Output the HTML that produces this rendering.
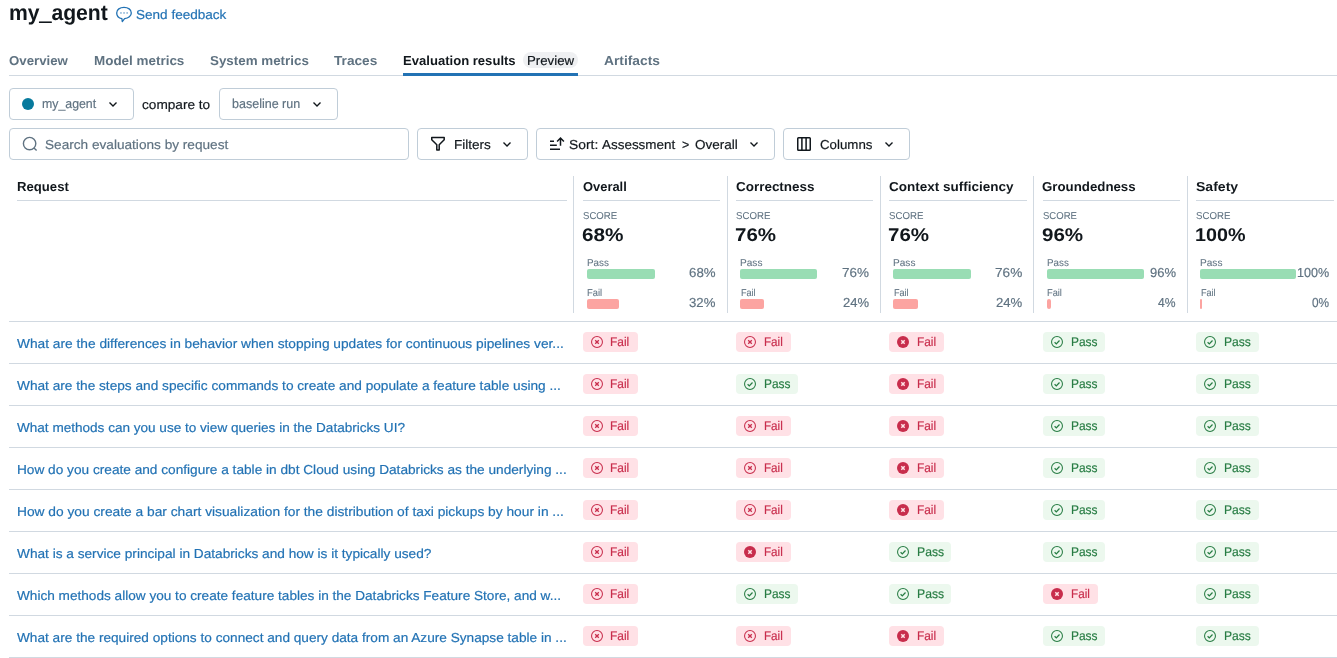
<!DOCTYPE html>
<html lang="en"><head><meta charset="utf-8"><title>my_agent - Evaluation results</title>
<style>
html,body{margin:0;padding:0;background:#fff;}
body{width:1337px;height:658px;position:relative;overflow:hidden;font-family:"Liberation Sans", Arial, sans-serif;color:#11171c;}
.t{position:absolute;white-space:pre;line-height:1;margin:0;padding:0;transform-origin:0 0;text-rendering:geometricPrecision;-webkit-text-stroke:0.18px currentColor;}
.a{position:absolute;}
.btn{position:absolute;box-sizing:border-box;border:1px solid #c0cdd8;border-radius:4px;background:#fff;height:32px;}
.hl{position:absolute;height:1px;background:#d1d9e1;}
.vl{position:absolute;width:1px;background:#d1d9e1;}
.bp{position:absolute;height:20px;border-radius:4px;}
.bar{position:absolute;height:10px;border-radius:2px;}
svg{position:absolute;overflow:visible;}
</style></head><body>
<svg style="left:116px;top:6px" width="16" height="17" viewBox="0 0 16 17" fill="none"><path d="M5.9 12.6 C3 12 0.7 9.8 0.7 6.9 C0.7 3.6 3.9 1.3 8 1.3 C12.1 1.3 15.3 3.6 15.3 6.9 C15.3 10 12.4 12.4 8.6 12.6 L6.3 15.6 Z" stroke="#2272b4" stroke-width="1.3" stroke-linejoin="round"/><rect x="4.2" y="6.2" width="1.5" height="1.5" fill="#7aaad2"/><rect x="7.3" y="6.2" width="1.5" height="1.5" fill="#7aaad2"/><rect x="10.4" y="6.2" width="1.5" height="1.5" fill="#7aaad2"/></svg>
<div class="hl" style="left:9px;top:75px;width:1328px;"></div>
<div class="a" style="left:403px;top:73px;width:175px;height:3px;background:#2272b4;"></div>
<div class="a" style="left:523px;top:52px;width:55px;height:16px;border-radius:8px;background:#eff0f2;"></div>
<div class="btn" style="left:9px;top:88px;width:125px;"></div>
<div class="a" style="left:22px;top:98px;width:12px;height:12px;border-radius:50%;background:#077a9d;"></div>
<svg style="left:109px;top:102px" width="8" height="5" viewBox="0 0 8 5" fill="none"><path d="M0.5 0.6 L4 4 L7.5 0.6" stroke="#11171c" stroke-width="1.4"/></svg>
<div class="btn" style="left:219px;top:88px;width:119px;"></div>
<svg style="left:312.5px;top:102px" width="8" height="5" viewBox="0 0 8 5" fill="none"><path d="M0.5 0.6 L4 4 L7.5 0.6" stroke="#11171c" stroke-width="1.4"/></svg>
<div class="btn" style="left:9px;top:128px;width:400px;"></div>
<svg style="left:22px;top:136px" width="16" height="16" viewBox="0 0 16 16" fill="none"><circle cx="7.6" cy="7.6" r="6.2" stroke="#5f7281" stroke-width="1.4"/><path d="M12 12 L14.6 14.6" stroke="#5f7281" stroke-width="1.4"/></svg>
<div class="btn" style="left:417px;top:128px;width:111px;"></div>
<svg style="left:430px;top:136px" width="16" height="16" viewBox="0 0 16 16" fill="none"><path d="M1.75 1.55 H14.2 V3.8 L9.2 8.7 V14.1 H6.8 V8.7 L1.75 3.8 Z" stroke="#11171c" stroke-width="1.5" stroke-linejoin="round"/></svg>
<svg style="left:503px;top:142px" width="8" height="5" viewBox="0 0 8 5" fill="none"><path d="M0.5 0.6 L4 4 L7.5 0.6" stroke="#11171c" stroke-width="1.4"/></svg>
<div class="btn" style="left:536px;top:128px;width:239px;"></div>
<svg style="left:549px;top:136px" width="16" height="16" viewBox="0 0 16 16" fill="none" stroke="#11171c" stroke-width="1.5"><path d="M1 5.15 H5 M1 9.2 H7.8 M1 13.2 H11 M11.5 9.7 V2.2 M8.1 5.5 L11.5 2.05 L14.9 5.5"/></svg>
<svg style="left:750px;top:142px" width="8" height="5" viewBox="0 0 8 5" fill="none"><path d="M0.5 0.6 L4 4 L7.5 0.6" stroke="#11171c" stroke-width="1.4"/></svg>
<div class="btn" style="left:783px;top:128px;width:127px;"></div>
<svg style="left:797px;top:137px" width="14" height="14" viewBox="0 0 14 14" fill="none" stroke="#11171c" stroke-width="1.5"><rect x="0.75" y="0.75" width="12.5" height="12.5" rx="0.8"/><path d="M4.9 0.75 V13.25 M9.1 0.75 V13.25"/></svg>
<svg style="left:885px;top:142px" width="8" height="5" viewBox="0 0 8 5" fill="none"><path d="M0.5 0.6 L4 4 L7.5 0.6" stroke="#11171c" stroke-width="1.4"/></svg>
<div class="hl" style="left:17px;top:200px;width:550px;"></div>
<div class="vl" style="left:573px;top:176px;height:137px;"></div>
<div class="hl" style="left:583px;top:200px;width:137px;"></div>
<div class="bar" style="left:587px;top:269px;width:68px;background:#99ddb4;"></div>
<div class="bar" style="left:587px;top:299px;width:32px;background:#fca4a1;"></div>
<div class="vl" style="left:727px;top:176px;height:137px;"></div>
<div class="hl" style="left:736px;top:200px;width:137px;"></div>
<div class="bar" style="left:740px;top:269px;width:77px;background:#99ddb4;"></div>
<div class="bar" style="left:740px;top:299px;width:24px;background:#fca4a1;"></div>
<div class="vl" style="left:880px;top:176px;height:137px;"></div>
<div class="hl" style="left:889px;top:200px;width:138px;"></div>
<div class="bar" style="left:893px;top:269px;width:78px;background:#99ddb4;"></div>
<div class="bar" style="left:893px;top:299px;width:25px;background:#fca4a1;"></div>
<div class="vl" style="left:1033px;top:176px;height:137px;"></div>
<div class="hl" style="left:1043px;top:200px;width:137px;"></div>
<div class="bar" style="left:1047px;top:269px;width:97px;background:#99ddb4;"></div>
<div class="bar" style="left:1047px;top:299px;width:4px;background:#fca4a1;"></div>
<div class="vl" style="left:1187px;top:176px;height:137px;"></div>
<div class="hl" style="left:1196px;top:200px;width:138px;"></div>
<div class="bar" style="left:1200px;top:269px;width:96px;background:#99ddb4;"></div>
<div class="bar" style="left:1200px;top:299px;width:1.7px;background:#fca4a1;border-radius:1px;"></div>
<div class="hl" style="left:9px;top:321px;width:1328px;"></div>
<div class="hl" style="left:9px;top:363px;width:1328px;"></div>
<div class="hl" style="left:9px;top:405px;width:1328px;"></div>
<div class="hl" style="left:9px;top:447px;width:1328px;"></div>
<div class="hl" style="left:9px;top:489px;width:1328px;"></div>
<div class="hl" style="left:9px;top:531px;width:1328px;"></div>
<div class="hl" style="left:9px;top:573px;width:1328px;"></div>
<div class="hl" style="left:9px;top:615px;width:1328px;"></div>
<div class="hl" style="left:9px;top:657px;width:1328px;"></div>
<div class="bp" style="left:583px;top:332px;width:55px;background:#ffe1e6;"></div>
<svg style="left:589.9px;top:335px" width="14" height="14" viewBox="0 0 14 14" fill="none" stroke="#c82d4c"><circle cx="7" cy="7" r="5.45" stroke-width="1.05"/><path d="M5.2 5.2 L8.8 8.8 M8.8 5.2 L5.2 8.8" stroke-width="1.3"/></svg>
<div class="bp" style="left:736px;top:332px;width:55px;background:#ffe1e6;"></div>
<svg style="left:742.9px;top:335px" width="14" height="14" viewBox="0 0 14 14" fill="none" stroke="#c82d4c"><circle cx="7" cy="7" r="5.45" stroke-width="1.05"/><path d="M5.2 5.2 L8.8 8.8 M8.8 5.2 L5.2 8.8" stroke-width="1.3"/></svg>
<div class="bp" style="left:889px;top:332px;width:55px;background:#ffe1e6;"></div>
<svg style="left:895.9px;top:335px" width="14" height="14" viewBox="0 0 14 14" fill="none"><circle cx="7" cy="7" r="6" fill="#c82d4c"/><path d="M5.3 5.3 L8.7 8.7 M8.7 5.3 L5.3 8.7" stroke="#ffe3e7" stroke-width="1.5"/></svg>
<div class="bp" style="left:1043px;top:332px;width:62px;background:#ecf8ee;"></div>
<svg style="left:1049.9px;top:335px" width="14" height="14" viewBox="0 0 14 14" fill="none" stroke="#277c43"><circle cx="7" cy="7" r="5.45" stroke-width="1.05"/><path d="M4.6 7.2 L6.3 8.9 L9.5 5.5" stroke-width="1.25"/></svg>
<div class="bp" style="left:1196px;top:332px;width:62.5px;background:#ecf8ee;"></div>
<svg style="left:1202.7px;top:335px" width="14" height="14" viewBox="0 0 14 14" fill="none" stroke="#277c43"><circle cx="7" cy="7" r="5.45" stroke-width="1.05"/><path d="M4.6 7.2 L6.3 8.9 L9.5 5.5" stroke-width="1.25"/></svg>
<div class="bp" style="left:583px;top:374px;width:55px;background:#ffe1e6;"></div>
<svg style="left:589.9px;top:377px" width="14" height="14" viewBox="0 0 14 14" fill="none" stroke="#c82d4c"><circle cx="7" cy="7" r="5.45" stroke-width="1.05"/><path d="M5.2 5.2 L8.8 8.8 M8.8 5.2 L5.2 8.8" stroke-width="1.3"/></svg>
<div class="bp" style="left:736px;top:374px;width:62px;background:#ecf8ee;"></div>
<svg style="left:742.9px;top:377px" width="14" height="14" viewBox="0 0 14 14" fill="none" stroke="#277c43"><circle cx="7" cy="7" r="5.45" stroke-width="1.05"/><path d="M4.6 7.2 L6.3 8.9 L9.5 5.5" stroke-width="1.25"/></svg>
<div class="bp" style="left:889px;top:374px;width:55px;background:#ffe1e6;"></div>
<svg style="left:895.9px;top:377px" width="14" height="14" viewBox="0 0 14 14" fill="none"><circle cx="7" cy="7" r="6" fill="#c82d4c"/><path d="M5.3 5.3 L8.7 8.7 M8.7 5.3 L5.3 8.7" stroke="#ffe3e7" stroke-width="1.5"/></svg>
<div class="bp" style="left:1043px;top:374px;width:62px;background:#ecf8ee;"></div>
<svg style="left:1049.9px;top:377px" width="14" height="14" viewBox="0 0 14 14" fill="none" stroke="#277c43"><circle cx="7" cy="7" r="5.45" stroke-width="1.05"/><path d="M4.6 7.2 L6.3 8.9 L9.5 5.5" stroke-width="1.25"/></svg>
<div class="bp" style="left:1196px;top:374px;width:62.5px;background:#ecf8ee;"></div>
<svg style="left:1202.7px;top:377px" width="14" height="14" viewBox="0 0 14 14" fill="none" stroke="#277c43"><circle cx="7" cy="7" r="5.45" stroke-width="1.05"/><path d="M4.6 7.2 L6.3 8.9 L9.5 5.5" stroke-width="1.25"/></svg>
<div class="bp" style="left:583px;top:416px;width:55px;background:#ffe1e6;"></div>
<svg style="left:589.9px;top:419px" width="14" height="14" viewBox="0 0 14 14" fill="none" stroke="#c82d4c"><circle cx="7" cy="7" r="5.45" stroke-width="1.05"/><path d="M5.2 5.2 L8.8 8.8 M8.8 5.2 L5.2 8.8" stroke-width="1.3"/></svg>
<div class="bp" style="left:736px;top:416px;width:55px;background:#ffe1e6;"></div>
<svg style="left:742.9px;top:419px" width="14" height="14" viewBox="0 0 14 14" fill="none" stroke="#c82d4c"><circle cx="7" cy="7" r="5.45" stroke-width="1.05"/><path d="M5.2 5.2 L8.8 8.8 M8.8 5.2 L5.2 8.8" stroke-width="1.3"/></svg>
<div class="bp" style="left:889px;top:416px;width:55px;background:#ffe1e6;"></div>
<svg style="left:895.9px;top:419px" width="14" height="14" viewBox="0 0 14 14" fill="none"><circle cx="7" cy="7" r="6" fill="#c82d4c"/><path d="M5.3 5.3 L8.7 8.7 M8.7 5.3 L5.3 8.7" stroke="#ffe3e7" stroke-width="1.5"/></svg>
<div class="bp" style="left:1043px;top:416px;width:62px;background:#ecf8ee;"></div>
<svg style="left:1049.9px;top:419px" width="14" height="14" viewBox="0 0 14 14" fill="none" stroke="#277c43"><circle cx="7" cy="7" r="5.45" stroke-width="1.05"/><path d="M4.6 7.2 L6.3 8.9 L9.5 5.5" stroke-width="1.25"/></svg>
<div class="bp" style="left:1196px;top:416px;width:62.5px;background:#ecf8ee;"></div>
<svg style="left:1202.7px;top:419px" width="14" height="14" viewBox="0 0 14 14" fill="none" stroke="#277c43"><circle cx="7" cy="7" r="5.45" stroke-width="1.05"/><path d="M4.6 7.2 L6.3 8.9 L9.5 5.5" stroke-width="1.25"/></svg>
<div class="bp" style="left:583px;top:458px;width:55px;background:#ffe1e6;"></div>
<svg style="left:589.9px;top:461px" width="14" height="14" viewBox="0 0 14 14" fill="none" stroke="#c82d4c"><circle cx="7" cy="7" r="5.45" stroke-width="1.05"/><path d="M5.2 5.2 L8.8 8.8 M8.8 5.2 L5.2 8.8" stroke-width="1.3"/></svg>
<div class="bp" style="left:736px;top:458px;width:55px;background:#ffe1e6;"></div>
<svg style="left:742.9px;top:461px" width="14" height="14" viewBox="0 0 14 14" fill="none" stroke="#c82d4c"><circle cx="7" cy="7" r="5.45" stroke-width="1.05"/><path d="M5.2 5.2 L8.8 8.8 M8.8 5.2 L5.2 8.8" stroke-width="1.3"/></svg>
<div class="bp" style="left:889px;top:458px;width:55px;background:#ffe1e6;"></div>
<svg style="left:895.9px;top:461px" width="14" height="14" viewBox="0 0 14 14" fill="none"><circle cx="7" cy="7" r="6" fill="#c82d4c"/><path d="M5.3 5.3 L8.7 8.7 M8.7 5.3 L5.3 8.7" stroke="#ffe3e7" stroke-width="1.5"/></svg>
<div class="bp" style="left:1043px;top:458px;width:62px;background:#ecf8ee;"></div>
<svg style="left:1049.9px;top:461px" width="14" height="14" viewBox="0 0 14 14" fill="none" stroke="#277c43"><circle cx="7" cy="7" r="5.45" stroke-width="1.05"/><path d="M4.6 7.2 L6.3 8.9 L9.5 5.5" stroke-width="1.25"/></svg>
<div class="bp" style="left:1196px;top:458px;width:62.5px;background:#ecf8ee;"></div>
<svg style="left:1202.7px;top:461px" width="14" height="14" viewBox="0 0 14 14" fill="none" stroke="#277c43"><circle cx="7" cy="7" r="5.45" stroke-width="1.05"/><path d="M4.6 7.2 L6.3 8.9 L9.5 5.5" stroke-width="1.25"/></svg>
<div class="bp" style="left:583px;top:500px;width:55px;background:#ffe1e6;"></div>
<svg style="left:589.9px;top:503px" width="14" height="14" viewBox="0 0 14 14" fill="none" stroke="#c82d4c"><circle cx="7" cy="7" r="5.45" stroke-width="1.05"/><path d="M5.2 5.2 L8.8 8.8 M8.8 5.2 L5.2 8.8" stroke-width="1.3"/></svg>
<div class="bp" style="left:736px;top:500px;width:55px;background:#ffe1e6;"></div>
<svg style="left:742.9px;top:503px" width="14" height="14" viewBox="0 0 14 14" fill="none" stroke="#c82d4c"><circle cx="7" cy="7" r="5.45" stroke-width="1.05"/><path d="M5.2 5.2 L8.8 8.8 M8.8 5.2 L5.2 8.8" stroke-width="1.3"/></svg>
<div class="bp" style="left:889px;top:500px;width:55px;background:#ffe1e6;"></div>
<svg style="left:895.9px;top:503px" width="14" height="14" viewBox="0 0 14 14" fill="none"><circle cx="7" cy="7" r="6" fill="#c82d4c"/><path d="M5.3 5.3 L8.7 8.7 M8.7 5.3 L5.3 8.7" stroke="#ffe3e7" stroke-width="1.5"/></svg>
<div class="bp" style="left:1043px;top:500px;width:62px;background:#ecf8ee;"></div>
<svg style="left:1049.9px;top:503px" width="14" height="14" viewBox="0 0 14 14" fill="none" stroke="#277c43"><circle cx="7" cy="7" r="5.45" stroke-width="1.05"/><path d="M4.6 7.2 L6.3 8.9 L9.5 5.5" stroke-width="1.25"/></svg>
<div class="bp" style="left:1196px;top:500px;width:62.5px;background:#ecf8ee;"></div>
<svg style="left:1202.7px;top:503px" width="14" height="14" viewBox="0 0 14 14" fill="none" stroke="#277c43"><circle cx="7" cy="7" r="5.45" stroke-width="1.05"/><path d="M4.6 7.2 L6.3 8.9 L9.5 5.5" stroke-width="1.25"/></svg>
<div class="bp" style="left:583px;top:542px;width:55px;background:#ffe1e6;"></div>
<svg style="left:589.9px;top:545px" width="14" height="14" viewBox="0 0 14 14" fill="none" stroke="#c82d4c"><circle cx="7" cy="7" r="5.45" stroke-width="1.05"/><path d="M5.2 5.2 L8.8 8.8 M8.8 5.2 L5.2 8.8" stroke-width="1.3"/></svg>
<div class="bp" style="left:736px;top:542px;width:55px;background:#ffe1e6;"></div>
<svg style="left:742.9px;top:545px" width="14" height="14" viewBox="0 0 14 14" fill="none"><circle cx="7" cy="7" r="6" fill="#c82d4c"/><path d="M5.3 5.3 L8.7 8.7 M8.7 5.3 L5.3 8.7" stroke="#ffe3e7" stroke-width="1.5"/></svg>
<div class="bp" style="left:889px;top:542px;width:62px;background:#ecf8ee;"></div>
<svg style="left:895.9px;top:545px" width="14" height="14" viewBox="0 0 14 14" fill="none" stroke="#277c43"><circle cx="7" cy="7" r="5.45" stroke-width="1.05"/><path d="M4.6 7.2 L6.3 8.9 L9.5 5.5" stroke-width="1.25"/></svg>
<div class="bp" style="left:1043px;top:542px;width:62px;background:#ecf8ee;"></div>
<svg style="left:1049.9px;top:545px" width="14" height="14" viewBox="0 0 14 14" fill="none" stroke="#277c43"><circle cx="7" cy="7" r="5.45" stroke-width="1.05"/><path d="M4.6 7.2 L6.3 8.9 L9.5 5.5" stroke-width="1.25"/></svg>
<div class="bp" style="left:1196px;top:542px;width:62.5px;background:#ecf8ee;"></div>
<svg style="left:1202.7px;top:545px" width="14" height="14" viewBox="0 0 14 14" fill="none" stroke="#277c43"><circle cx="7" cy="7" r="5.45" stroke-width="1.05"/><path d="M4.6 7.2 L6.3 8.9 L9.5 5.5" stroke-width="1.25"/></svg>
<div class="bp" style="left:583px;top:584px;width:55px;background:#ffe1e6;"></div>
<svg style="left:589.9px;top:587px" width="14" height="14" viewBox="0 0 14 14" fill="none" stroke="#c82d4c"><circle cx="7" cy="7" r="5.45" stroke-width="1.05"/><path d="M5.2 5.2 L8.8 8.8 M8.8 5.2 L5.2 8.8" stroke-width="1.3"/></svg>
<div class="bp" style="left:736px;top:584px;width:62px;background:#ecf8ee;"></div>
<svg style="left:742.9px;top:587px" width="14" height="14" viewBox="0 0 14 14" fill="none" stroke="#277c43"><circle cx="7" cy="7" r="5.45" stroke-width="1.05"/><path d="M4.6 7.2 L6.3 8.9 L9.5 5.5" stroke-width="1.25"/></svg>
<div class="bp" style="left:889px;top:584px;width:62px;background:#ecf8ee;"></div>
<svg style="left:895.9px;top:587px" width="14" height="14" viewBox="0 0 14 14" fill="none" stroke="#277c43"><circle cx="7" cy="7" r="5.45" stroke-width="1.05"/><path d="M4.6 7.2 L6.3 8.9 L9.5 5.5" stroke-width="1.25"/></svg>
<div class="bp" style="left:1043px;top:584px;width:55px;background:#ffe1e6;"></div>
<svg style="left:1049.9px;top:587px" width="14" height="14" viewBox="0 0 14 14" fill="none"><circle cx="7" cy="7" r="6" fill="#c82d4c"/><path d="M5.3 5.3 L8.7 8.7 M8.7 5.3 L5.3 8.7" stroke="#ffe3e7" stroke-width="1.5"/></svg>
<div class="bp" style="left:1196px;top:584px;width:62.5px;background:#ecf8ee;"></div>
<svg style="left:1202.7px;top:587px" width="14" height="14" viewBox="0 0 14 14" fill="none" stroke="#277c43"><circle cx="7" cy="7" r="5.45" stroke-width="1.05"/><path d="M4.6 7.2 L6.3 8.9 L9.5 5.5" stroke-width="1.25"/></svg>
<div class="bp" style="left:583px;top:626px;width:55px;background:#ffe1e6;"></div>
<svg style="left:589.9px;top:629px" width="14" height="14" viewBox="0 0 14 14" fill="none" stroke="#c82d4c"><circle cx="7" cy="7" r="5.45" stroke-width="1.05"/><path d="M5.2 5.2 L8.8 8.8 M8.8 5.2 L5.2 8.8" stroke-width="1.3"/></svg>
<div class="bp" style="left:736px;top:626px;width:55px;background:#ffe1e6;"></div>
<svg style="left:742.9px;top:629px" width="14" height="14" viewBox="0 0 14 14" fill="none" stroke="#c82d4c"><circle cx="7" cy="7" r="5.45" stroke-width="1.05"/><path d="M5.2 5.2 L8.8 8.8 M8.8 5.2 L5.2 8.8" stroke-width="1.3"/></svg>
<div class="bp" style="left:889px;top:626px;width:55px;background:#ffe1e6;"></div>
<svg style="left:895.9px;top:629px" width="14" height="14" viewBox="0 0 14 14" fill="none"><circle cx="7" cy="7" r="6" fill="#c82d4c"/><path d="M5.3 5.3 L8.7 8.7 M8.7 5.3 L5.3 8.7" stroke="#ffe3e7" stroke-width="1.5"/></svg>
<div class="bp" style="left:1043px;top:626px;width:62px;background:#ecf8ee;"></div>
<svg style="left:1049.9px;top:629px" width="14" height="14" viewBox="0 0 14 14" fill="none" stroke="#277c43"><circle cx="7" cy="7" r="5.45" stroke-width="1.05"/><path d="M4.6 7.2 L6.3 8.9 L9.5 5.5" stroke-width="1.25"/></svg>
<div class="bp" style="left:1196px;top:626px;width:62.5px;background:#ecf8ee;"></div>
<svg style="left:1202.7px;top:629px" width="14" height="14" viewBox="0 0 14 14" fill="none" stroke="#277c43"><circle cx="7" cy="7" r="5.45" stroke-width="1.05"/><path d="M4.6 7.2 L6.3 8.9 L9.5 5.5" stroke-width="1.25"/></svg>
<div class="t" style="left:9px;top:2px;font-size:22px;font-weight:700;-webkit-text-stroke:0;transform:scaleX(0.9622);">my<span style="-webkit-text-stroke:0.7px #11171c">_</span>agent</div>
<div class="t" style="left:136px;top:8px;font-size:13px;color:#2272b4;transform:scaleX(1.0413);">Send feedback</div>
<div class="t" style="left:9px;top:54px;font-size:13px;font-weight:700;-webkit-text-stroke:0;color:#5f7281;transform:scaleX(1.0180);">Overview</div>
<div class="t" style="left:94px;top:54px;font-size:13px;font-weight:700;-webkit-text-stroke:0;color:#5f7281;transform:scaleX(1.0333);">Model metrics</div>
<div class="t" style="left:210px;top:54px;font-size:13px;font-weight:700;-webkit-text-stroke:0;color:#5f7281;transform:scaleX(1.0285);">System metrics</div>
<div class="t" style="left:334px;top:54px;font-size:13px;font-weight:700;-webkit-text-stroke:0;color:#5f7281;transform:scaleX(1.0495);">Traces</div>
<div class="t" style="left:403px;top:54px;font-size:13px;font-weight:700;-webkit-text-stroke:0;transform:scaleX(1.0059);">Evaluation results</div>
<div class="t" style="left:527px;top:54px;font-size:13px;transform:scaleX(1.0179);">Preview</div>
<div class="t" style="left:604px;top:54px;font-size:13px;font-weight:700;-webkit-text-stroke:0;color:#5f7281;transform:scaleX(1.0600);">Artifacts</div>
<div class="t" style="left:42px;top:97px;font-size:13px;color:#5f7281;transform:scaleX(0.9480);">my_agent</div>
<div class="t" style="left:142px;top:98px;font-size:13px;transform:scaleX(1.0477);">compare to</div>
<div class="t" style="left:232px;top:97px;font-size:13px;color:#5f7281;transform:scaleX(0.9630);">baseline run</div>
<div class="t" style="left:45px;top:138px;font-size:13px;color:#5f7281;transform:scaleX(1.0478);">Search evaluations by request</div>
<div class="t" style="left:454px;top:138px;font-size:13px;transform:scaleX(1.0418);">Filters</div>
<div class="t" style="left:569px;top:138px;font-size:13px;transform:scaleX(1.0665);">Sort: </div>
<div class="t" style="left:602px;top:138px;font-size:13px;transform:scaleX(1.0341);">Assessment</div>
<div class="t" style="left:682px;top:138px;font-size:13px;transform:scaleX(0.9509);">&gt;</div>
<div class="t" style="left:695px;top:138px;font-size:13px;transform:scaleX(1.0376);">Overall</div>
<div class="t" style="left:820px;top:138px;font-size:13px;transform:scaleX(1.0224);">Columns</div>
<div class="t" style="left:17px;top:180px;font-size:13px;font-weight:700;-webkit-text-stroke:0;transform:scaleX(1.0101);">Request</div>
<div class="t" style="left:583px;top:180px;font-size:13px;font-weight:700;-webkit-text-stroke:0;transform:scaleX(0.9931);">Overall</div>
<div class="t" style="left:583px;top:212px;font-size:10px;color:#5f7281;transform:scaleX(0.9576);-webkit-text-stroke-width:0.08px;">SCORE</div>
<div class="t" style="left:582px;top:226px;font-size:18.4px;font-weight:700;-webkit-text-stroke:0;transform:scaleX(1.1279);">68%</div>
<div class="t" style="left:587px;top:259px;font-size:10px;color:#5f7281;transform:scaleX(0.9865);-webkit-text-stroke-width:0.08px;">Pass</div>
<div class="t" style="left:587px;top:289px;font-size:10px;color:#5f7281;transform:scaleX(0.9333);-webkit-text-stroke-width:0.08px;">Fail</div>
<div class="t" style="left:689px;top:266px;font-size:13px;color:#5f7281;transform:scaleX(1.0212);">68%</div>
<div class="t" style="left:689px;top:296px;font-size:13px;color:#5f7281;transform:scaleX(1.0127);">32%</div>
<div class="t" style="left:736px;top:180px;font-size:13px;font-weight:700;-webkit-text-stroke:0;transform:scaleX(1.0347);">Correctness</div>
<div class="t" style="left:736px;top:212px;font-size:10px;color:#5f7281;transform:scaleX(0.9668);-webkit-text-stroke-width:0.08px;">SCORE</div>
<div class="t" style="left:735px;top:226px;font-size:18.4px;font-weight:700;-webkit-text-stroke:0;transform:scaleX(1.1151);">76%</div>
<div class="t" style="left:740px;top:259px;font-size:10px;color:#5f7281;transform:scaleX(1.0091);-webkit-text-stroke-width:0.08px;">Pass</div>
<div class="t" style="left:741px;top:289px;font-size:10px;color:#5f7281;transform:scaleX(0.9067);-webkit-text-stroke-width:0.08px;">Fail</div>
<div class="t" style="left:842px;top:266px;font-size:13px;color:#5f7281;transform:scaleX(1.0347);">76%</div>
<div class="t" style="left:843px;top:296px;font-size:13px;color:#5f7281;transform:scaleX(1.0000);">24%</div>
<div class="t" style="left:889px;top:180px;font-size:13px;font-weight:700;-webkit-text-stroke:0;transform:scaleX(1.0383);">Context sufficiency</div>
<div class="t" style="left:889px;top:212px;font-size:10px;color:#5f7281;transform:scaleX(0.9668);-webkit-text-stroke-width:0.08px;">SCORE</div>
<div class="t" style="left:888px;top:226px;font-size:18.4px;font-weight:700;-webkit-text-stroke:0;transform:scaleX(1.1151);">76%</div>
<div class="t" style="left:893px;top:259px;font-size:10px;color:#5f7281;transform:scaleX(1.0091);-webkit-text-stroke-width:0.08px;">Pass</div>
<div class="t" style="left:894px;top:289px;font-size:10px;color:#5f7281;transform:scaleX(0.9067);-webkit-text-stroke-width:0.08px;">Fail</div>
<div class="t" style="left:995px;top:266px;font-size:13px;color:#5f7281;transform:scaleX(1.0476);">76%</div>
<div class="t" style="left:996px;top:296px;font-size:13px;color:#5f7281;transform:scaleX(1.0111);">24%</div>
<div class="t" style="left:1042px;top:180px;font-size:13px;font-weight:700;-webkit-text-stroke:0;transform:scaleX(1.0205);">Groundedness</div>
<div class="t" style="left:1043px;top:212px;font-size:10px;color:#5f7281;transform:scaleX(0.9523);-webkit-text-stroke-width:0.08px;">SCORE</div>
<div class="t" style="left:1042px;top:226px;font-size:18.4px;font-weight:700;-webkit-text-stroke:0;transform:scaleX(1.1182);">96%</div>
<div class="t" style="left:1047px;top:259px;font-size:10px;color:#5f7281;transform:scaleX(0.9819);-webkit-text-stroke-width:0.08px;">Pass</div>
<div class="t" style="left:1047px;top:289px;font-size:10px;color:#5f7281;transform:scaleX(0.9245);-webkit-text-stroke-width:0.08px;">Fail</div>
<div class="t" style="left:1150px;top:266px;font-size:13px;color:#5f7281;transform:scaleX(1.0000);">96%</div>
<div class="t" style="left:1158px;top:296px;font-size:13px;color:#5f7281;transform:scaleX(0.9337);">4%</div>
<div class="t" style="left:1196px;top:180px;font-size:13px;font-weight:700;-webkit-text-stroke:0;transform:scaleX(1.0796);">Safety</div>
<div class="t" style="left:1196px;top:212px;font-size:10px;color:#5f7281;transform:scaleX(0.9668);-webkit-text-stroke-width:0.08px;">SCORE</div>
<div class="t" style="left:1195px;top:226px;font-size:18.4px;font-weight:700;-webkit-text-stroke:0;transform:scaleX(1.0726);">100%</div>
<div class="t" style="left:1200px;top:259px;font-size:10px;color:#5f7281;transform:scaleX(1.0091);-webkit-text-stroke-width:0.08px;">Pass</div>
<div class="t" style="left:1201px;top:289px;font-size:10px;color:#5f7281;transform:scaleX(0.9067);-webkit-text-stroke-width:0.08px;">Fail</div>
<div class="t" style="left:1297px;top:266px;font-size:13px;color:#5f7281;transform:scaleX(0.9659);">100%</div>
<div class="t" style="left:1312px;top:296px;font-size:13px;color:#5f7281;transform:scaleX(0.9120);">0%</div>
<div class="t" style="left:17px;top:337px;font-size:13px;color:#2272b4;transform:scaleX(1.0557);">What are the differences in behavior when stopping updates for continuous pipelines ver...</div>
<div class="t" style="left:610px;top:336px;font-size:12.5px;color:#c82d4c;transform:scaleX(0.9542);">Fail</div>
<div class="t" style="left:764px;top:336px;font-size:12.5px;color:#c82d4c;transform:scaleX(0.9330);">Fail</div>
<div class="t" style="left:917px;top:336px;font-size:12.5px;color:#c82d4c;transform:scaleX(0.9499);">Fail</div>
<div class="t" style="left:1071px;top:336px;font-size:12.5px;color:#277c43;transform:scaleX(0.9549);">Pass</div>
<div class="t" style="left:1224px;top:336px;font-size:12.5px;color:#277c43;transform:scaleX(0.9686);">Pass</div>
<div class="t" style="left:17px;top:379px;font-size:13px;color:#2272b4;transform:scaleX(1.0512);">What are the steps and specific commands to create and populate a feature table using ...</div>
<div class="t" style="left:610px;top:378px;font-size:12.5px;color:#c82d4c;transform:scaleX(0.9542);">Fail</div>
<div class="t" style="left:764px;top:378px;font-size:12.5px;color:#277c43;transform:scaleX(0.9540);">Pass</div>
<div class="t" style="left:917px;top:378px;font-size:12.5px;color:#c82d4c;transform:scaleX(0.9499);">Fail</div>
<div class="t" style="left:1071px;top:378px;font-size:12.5px;color:#277c43;transform:scaleX(0.9549);">Pass</div>
<div class="t" style="left:1224px;top:378px;font-size:12.5px;color:#277c43;transform:scaleX(0.9686);">Pass</div>
<div class="t" style="left:17px;top:421px;font-size:13px;color:#2272b4;transform:scaleX(1.0425);">What methods can you use to view queries in the Databricks UI?</div>
<div class="t" style="left:610px;top:420px;font-size:12.5px;color:#c82d4c;transform:scaleX(0.9542);">Fail</div>
<div class="t" style="left:764px;top:420px;font-size:12.5px;color:#c82d4c;transform:scaleX(0.9330);">Fail</div>
<div class="t" style="left:917px;top:420px;font-size:12.5px;color:#c82d4c;transform:scaleX(0.9499);">Fail</div>
<div class="t" style="left:1071px;top:420px;font-size:12.5px;color:#277c43;transform:scaleX(0.9549);">Pass</div>
<div class="t" style="left:1224px;top:420px;font-size:12.5px;color:#277c43;transform:scaleX(0.9686);">Pass</div>
<div class="t" style="left:17px;top:463px;font-size:13px;color:#2272b4;transform:scaleX(1.0506);">How do you create and configure a table in dbt Cloud using Databricks as the underlying ...</div>
<div class="t" style="left:610px;top:462px;font-size:12.5px;color:#c82d4c;transform:scaleX(0.9542);">Fail</div>
<div class="t" style="left:764px;top:462px;font-size:12.5px;color:#c82d4c;transform:scaleX(0.9330);">Fail</div>
<div class="t" style="left:917px;top:462px;font-size:12.5px;color:#c82d4c;transform:scaleX(0.9499);">Fail</div>
<div class="t" style="left:1071px;top:462px;font-size:12.5px;color:#277c43;transform:scaleX(0.9549);">Pass</div>
<div class="t" style="left:1224px;top:462px;font-size:12.5px;color:#277c43;transform:scaleX(0.9686);">Pass</div>
<div class="t" style="left:17px;top:505px;font-size:13px;color:#2272b4;transform:scaleX(1.0584);">How do you create a bar chart visualization for the distribution of taxi pickups by hour in ...</div>
<div class="t" style="left:610px;top:504px;font-size:12.5px;color:#c82d4c;transform:scaleX(0.9542);">Fail</div>
<div class="t" style="left:764px;top:504px;font-size:12.5px;color:#c82d4c;transform:scaleX(0.9330);">Fail</div>
<div class="t" style="left:917px;top:504px;font-size:12.5px;color:#c82d4c;transform:scaleX(0.9499);">Fail</div>
<div class="t" style="left:1071px;top:504px;font-size:12.5px;color:#277c43;transform:scaleX(0.9549);">Pass</div>
<div class="t" style="left:1224px;top:504px;font-size:12.5px;color:#277c43;transform:scaleX(0.9686);">Pass</div>
<div class="t" style="left:17px;top:547px;font-size:13px;color:#2272b4;transform:scaleX(1.0503);">What is a service principal in Databricks and how is it typically used?</div>
<div class="t" style="left:610px;top:546px;font-size:12.5px;color:#c82d4c;transform:scaleX(0.9542);">Fail</div>
<div class="t" style="left:764px;top:546px;font-size:12.5px;color:#c82d4c;transform:scaleX(0.9330);">Fail</div>
<div class="t" style="left:917px;top:546px;font-size:12.5px;color:#277c43;transform:scaleX(0.9755);">Pass</div>
<div class="t" style="left:1071px;top:546px;font-size:12.5px;color:#277c43;transform:scaleX(0.9549);">Pass</div>
<div class="t" style="left:1224px;top:546px;font-size:12.5px;color:#277c43;transform:scaleX(0.9686);">Pass</div>
<div class="t" style="left:17px;top:589px;font-size:13px;color:#2272b4;transform:scaleX(1.0471);">Which methods allow you to create feature tables in the Databricks Feature Store, and w...</div>
<div class="t" style="left:610px;top:588px;font-size:12.5px;color:#c82d4c;transform:scaleX(0.9542);">Fail</div>
<div class="t" style="left:764px;top:588px;font-size:12.5px;color:#277c43;transform:scaleX(0.9540);">Pass</div>
<div class="t" style="left:917px;top:588px;font-size:12.5px;color:#277c43;transform:scaleX(0.9755);">Pass</div>
<div class="t" style="left:1071px;top:588px;font-size:12.5px;color:#c82d4c;transform:scaleX(0.9357);">Fail</div>
<div class="t" style="left:1224px;top:588px;font-size:12.5px;color:#277c43;transform:scaleX(0.9686);">Pass</div>
<div class="t" style="left:17px;top:631px;font-size:13px;color:#2272b4;transform:scaleX(1.0492);">What are the required options to connect and query data from an Azure Synapse table in ...</div>
<div class="t" style="left:610px;top:630px;font-size:12.5px;color:#c82d4c;transform:scaleX(0.9542);">Fail</div>
<div class="t" style="left:764px;top:630px;font-size:12.5px;color:#c82d4c;transform:scaleX(0.9330);">Fail</div>
<div class="t" style="left:917px;top:630px;font-size:12.5px;color:#c82d4c;transform:scaleX(0.9499);">Fail</div>
<div class="t" style="left:1071px;top:630px;font-size:12.5px;color:#277c43;transform:scaleX(0.9549);">Pass</div>
<div class="t" style="left:1224px;top:630px;font-size:12.5px;color:#277c43;transform:scaleX(0.9686);">Pass</div>
</body></html>
